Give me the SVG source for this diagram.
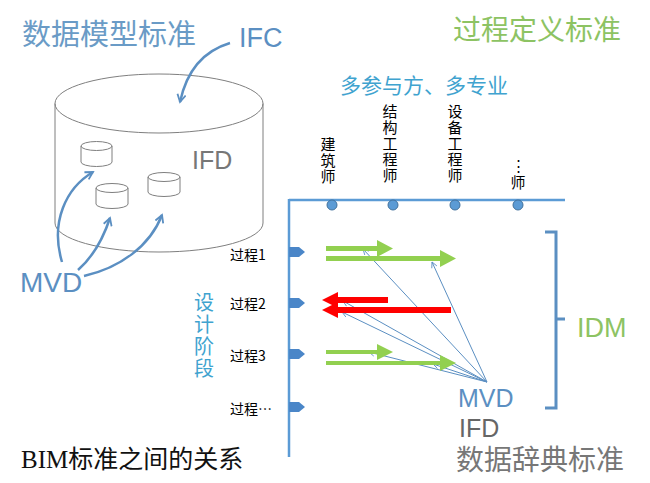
<svg xmlns="http://www.w3.org/2000/svg" width="650" height="483" viewBox="0 0 650 483">
<style>
.cyl{fill:none;stroke:#7f7f7f;stroke-width:1}
.curve{fill:none;stroke:#5b8fc2;stroke-width:2.5}
.thin{fill:none;stroke:#5b8fc2;stroke-width:1}
.axis{fill:none;stroke:#5b9bd5;stroke-width:2.5}
.dot{fill:#5b9bd5;stroke:#41719c;stroke-width:1}
.tab{fill:#4a86c8}
.green{fill:#92d050}
.red{fill:#ff0000}
.sans{font-family:"Liberation Sans","Noto Sans CJK SC",sans-serif}
.cjk{font-family:"Noto Sans CJK SC","Liberation Sans",sans-serif}
.proc{font-size:14px;fill:#000}
.role{font-size:15px;fill:#000;text-anchor:middle}
</style>
<defs>
<marker id="ah" viewBox="0 0 12 12" refX="10" refY="6" markerWidth="10" markerHeight="10" markerUnits="userSpaceOnUse" orient="auto">
<path d="M1,1 L10,6 L1,11" fill="none" stroke="#5b8fc2" stroke-width="2.2"/>
</marker>
<marker id="ahs" viewBox="0 0 10 10" refX="9" refY="5" markerWidth="7" markerHeight="7" markerUnits="userSpaceOnUse" orient="auto">
<path d="M1,1 L9,5 L1,9" fill="none" stroke="#5b8fc2" stroke-width="1.2"/>
</marker>
</defs>
<rect width="650" height="483" fill="#ffffff"/>

<g id="title-model">
<text class="cjk" x="22" y="45" font-size="29" fill="#6a9bc6">数据模型标准</text>
</g>
<g id="ifc-label">
<text class="sans" x="239" y="47" font-size="27" fill="#5b8fc2">IFC</text>
</g>

<g id="big-cylinder">
<ellipse class="cyl" cx="159" cy="103.5" rx="104" ry="29.5"/>
<line class="cyl" x1="55" y1="103.5" x2="55" y2="223"/>
<line class="cyl" x1="263" y1="103.5" x2="263" y2="223"/>
<path class="cyl" d="M55,223 A104,29 0 0 0 263,223"/>
<text class="sans" x="192" y="169" font-size="25" fill="#777777">IFD</text>
</g>

<g id="small-cyl-1">
<ellipse class="cyl" cx="96.5" cy="146" rx="15.5" ry="4.5"/>
<line class="cyl" x1="81" y1="146" x2="81" y2="162"/>
<line class="cyl" x1="112" y1="146" x2="112" y2="162"/>
<path class="cyl" d="M81,162 A15.5,4.5 0 0 0 112,162"/>
</g>
<g id="small-cyl-2">
<ellipse class="cyl" cx="112" cy="188" rx="16" ry="4.5"/>
<line class="cyl" x1="96" y1="188" x2="96" y2="204"/>
<line class="cyl" x1="128" y1="188" x2="128" y2="204"/>
<path class="cyl" d="M96,204 A16,4.5 0 0 0 128,204"/>
</g>
<g id="small-cyl-3">
<ellipse class="cyl" cx="164" cy="177" rx="16" ry="4.5"/>
<line class="cyl" x1="148" y1="177" x2="148" y2="192"/>
<line class="cyl" x1="180" y1="177" x2="180" y2="192"/>
<path class="cyl" d="M148,192 A16,4.5 0 0 0 180,192"/>
</g>

<g id="mvd-left">
<text class="sans" x="20" y="292" font-size="28" fill="#5b8fc2">MVD</text>
</g>

<g id="connectors">
<path class="curve" d="M230,43 Q190,55 180,102" marker-end="url(#ah)"/>
<path class="curve" d="M62,262 C50,222 66,188 93,172" marker-end="url(#ah)"/>
<path class="curve" d="M78,270 C94,256 104,236 110,218" marker-end="url(#ah)"/>
<path class="curve" d="M84,276 C120,268 150,246 162,215" marker-end="url(#ah)"/>
<line class="thin" x1="487" y1="382" x2="363" y2="249" marker-end="url(#ahs)"/>
<line class="thin" x1="487" y1="382" x2="432" y2="262" marker-end="url(#ahs)"/>
<line class="thin" x1="487" y1="382" x2="343" y2="301" marker-end="url(#ahs)"/>
<line class="thin" x1="487" y1="382" x2="342" y2="312" marker-end="url(#ahs)"/>
<line class="thin" x1="487" y1="382" x2="369" y2="352" marker-end="url(#ahs)"/>
<line class="thin" x1="487" y1="382" x2="433" y2="364" marker-end="url(#ahs)"/>
</g>

<g id="title-process">
<text class="cjk" x="453" y="40" font-size="28" fill="#8dc363">过程定义标准</text>
</g>
<g id="participants">
<text class="cjk" x="340" y="93" font-size="21" fill="#3fa3cf">多参与方、多专业</text>
</g>

<g id="axes">
<line class="axis" x1="289" y1="200" x2="565" y2="200"/>
<line class="axis" x1="289" y1="199" x2="289" y2="457"/>
<circle class="dot" cx="332" cy="205" r="5"/>
<circle class="dot" cx="393" cy="205" r="5"/>
<circle class="dot" cx="455" cy="205" r="5"/>
<circle class="dot" cx="518" cy="205" r="5"/>
<polygon class="tab" points="289,247 299,247 305,252 299,257 289,257"/>
<polygon class="tab" points="289,298 299,298 305,303 299,308 289,308"/>
<polygon class="tab" points="289,349 299,349 305,354 299,359 289,359"/>
<polygon class="tab" points="289,402 299,402 305,407 299,412 289,412"/>
</g>

<g id="role-architect">
<text class="cjk role"><tspan x="328" y="150">建</tspan><tspan x="328" y="166">筑</tspan><tspan x="328" y="182">师</tspan></text>
</g>
<g id="role-structural">
<text class="cjk role"><tspan x="390" y="117">结</tspan><tspan x="390" y="133">构</tspan><tspan x="390" y="149">工</tspan><tspan x="390" y="165">程</tspan><tspan x="390" y="181">师</tspan></text>
</g>
<g id="role-mep">
<text class="cjk role"><tspan x="455" y="117">设</tspan><tspan x="455" y="133">备</tspan><tspan x="455" y="149">工</tspan><tspan x="455" y="165">程</tspan><tspan x="455" y="181">师</tspan></text>
</g>
<g id="role-more">
<text class="cjk role"><tspan x="518" y="171">⋮</tspan><tspan x="518" y="188">师</tspan></text>
</g>

<g id="process-labels">
<text class="cjk proc" x="230" y="260">过程1</text>
<text class="cjk proc" x="230" y="309">过程2</text>
<text class="cjk proc" x="230" y="361">过程3</text>
<text class="cjk proc" x="230" y="414">过程…</text>
</g>
<g id="design-phase">
<text class="cjk" font-size="20" fill="#3fa3cf" text-anchor="middle"><tspan x="204" y="310">设</tspan><tspan x="204" y="332">计</tspan><tspan x="204" y="354">阶</tspan><tspan x="204" y="376">段</tspan></text>
</g>

<g id="flow-arrows">
<polygon class="green" points="326,246 377,246 377,240 393,248.5 377,257 377,251 326,251"/>
<polygon class="green" points="326,256 440,256 440,250 456,258.5 440,267 440,261 326,261"/>
<polygon class="red" points="388,297 338,297 338,292 322,300 338,308 338,303 388,303"/>
<polygon class="red" points="451,307 338,307 338,302 322,310 338,318 338,313 451,313"/>
<polygon class="green" points="326,350 377,350 377,344 393,352 377,360 377,354 326,354"/>
<polygon class="green" points="326,361 440,361 440,355 456,363 440,371 440,365 326,365"/>
</g>

<g id="idm">
<path d="M545,232 L556,232 L556,408 L545,408 M556,319 L565,319" fill="none" stroke="#5b8fc2" stroke-width="3"/>
<text class="sans" x="577" y="337" font-size="27" fill="#8dc363">IDM</text>
</g>

<g id="mvd-right">
<text class="sans" x="458" y="407" font-size="25" fill="#5b8fc2">MVD</text>
</g>
<g id="ifd-right">
<text class="sans" x="459" y="437" font-size="25" fill="#666666">IFD</text>
</g>
<g id="title-dictionary">
<text class="cjk" x="456" y="470" font-size="28" fill="#777777">数据辞典标准</text>
</g>

<g id="caption">
<text x="21" y="468" font-size="25" fill="#111111" font-family="'Liberation Serif','Noto Sans CJK SC',serif">BIM标准之间的关系</text>
</g>
</svg>
